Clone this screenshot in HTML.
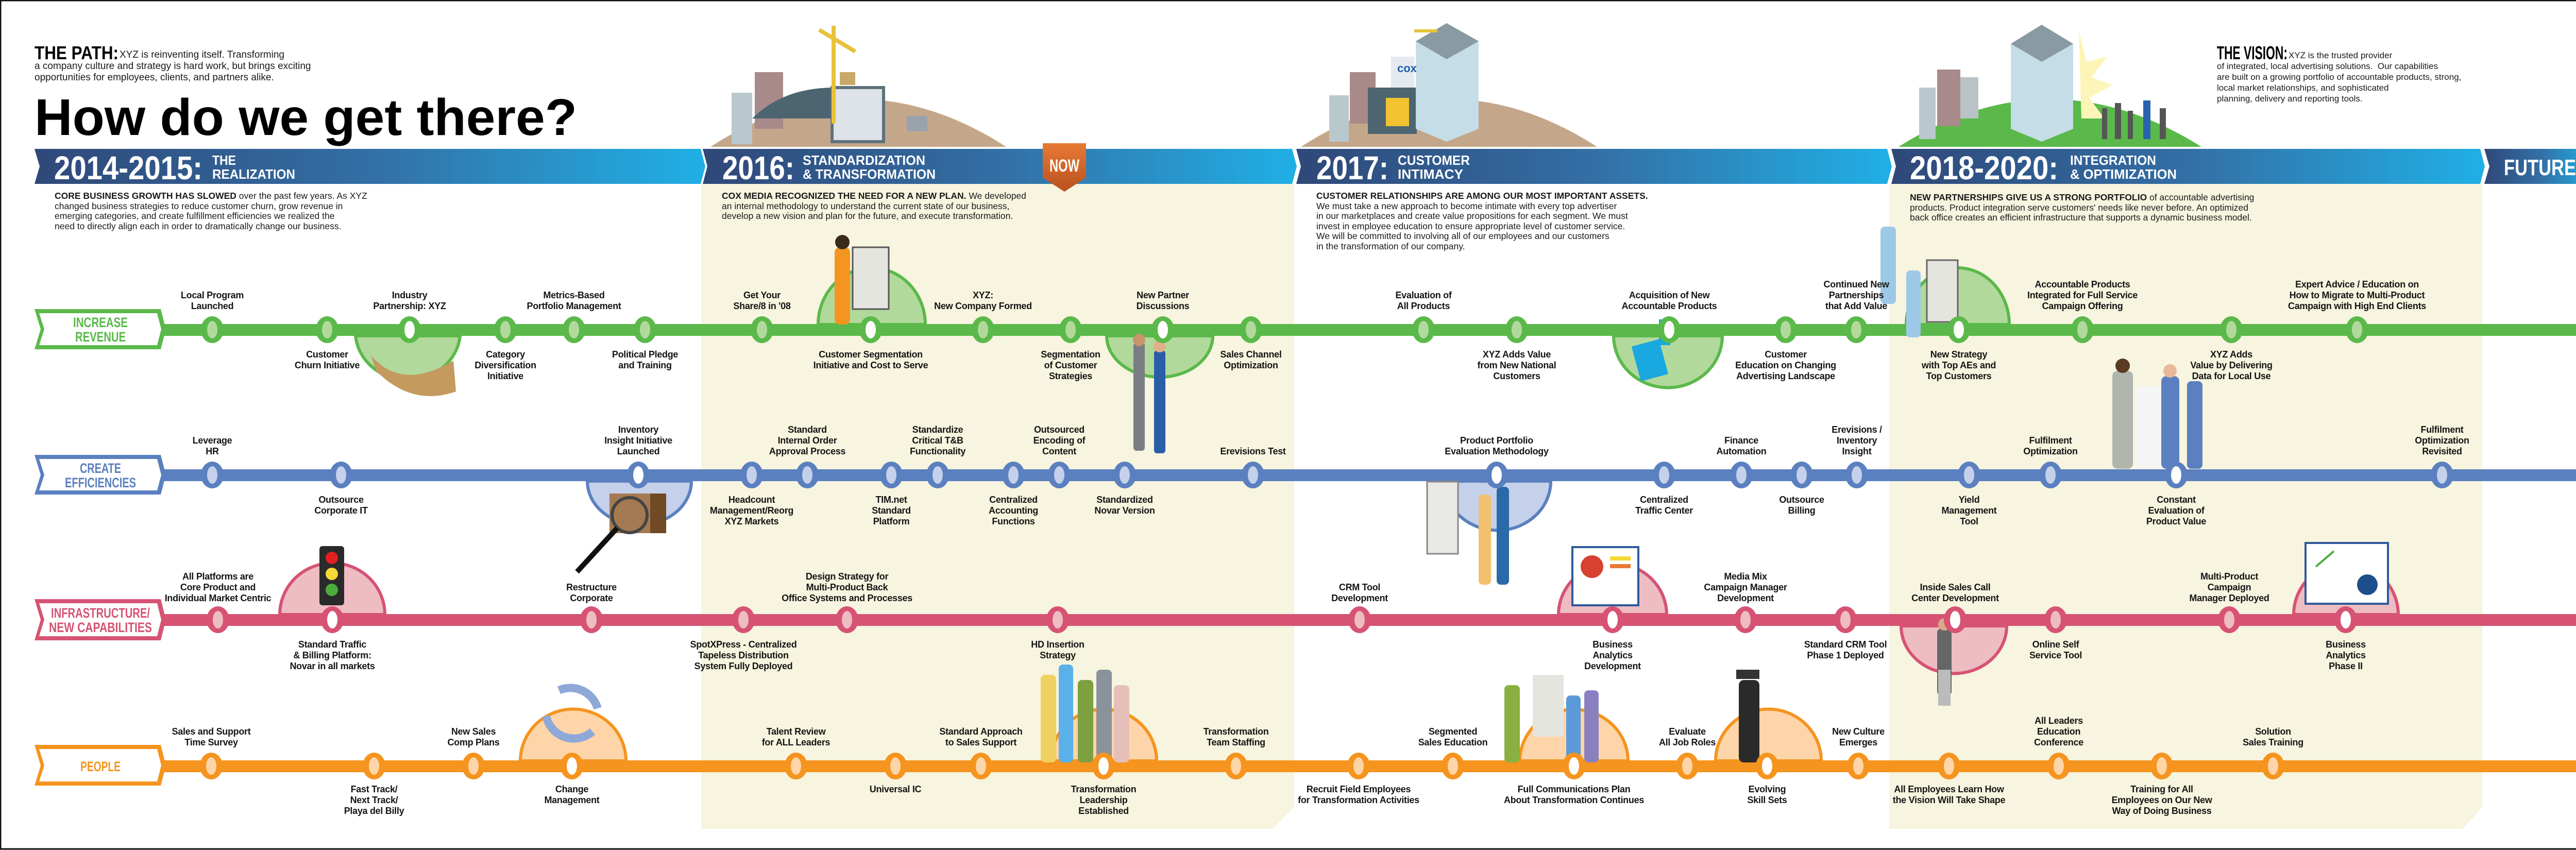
<!DOCTYPE html>
<html><head><meta charset="utf-8">
<style>
*{margin:0;padding:0;box-sizing:border-box}
body{width:5100px;height:1650px;position:relative;background:#fff;font-family:"Liberation Sans",Arial,sans-serif;overflow:hidden;color:#111}
svg{position:absolute;left:0;top:0}
.l{position:absolute;font-weight:bold;font-size:18px;line-height:21px;text-align:center;white-space:nowrap;transform:translateX(-50%);color:#151515;letter-spacing:-0.3px}
.a{transform:translate(-50%,-100%)}
.t{position:absolute;font-size:17.5px;line-height:19.5px;white-space:nowrap;color:#1a1a1a}
.t b{font-weight:bold}
</style></head><body>
<svg width="5100" height="1650" viewBox="0 0 5100 1650" xmlns="http://www.w3.org/2000/svg">
<defs>
<linearGradient id="bg" x1="0" x2="1" y1="0" y2="0"><stop offset="0" stop-color="#2f4878"/><stop offset="0.5" stop-color="#336fa5"/><stop offset="1" stop-color="#20b0e6"/></linearGradient>
<linearGradient id="ng" x1="0" x2="0" y1="0" y2="1"><stop offset="0" stop-color="#e87a35"/><stop offset="1" stop-color="#b9511f"/></linearGradient>
<g id="nG"><ellipse rx="22" ry="26" fill="#5ab94a"/><ellipse rx="10" ry="17" fill="#b2d99c"/></g>
<g id="wG"><ellipse rx="22" ry="26" fill="#5ab94a"/><ellipse rx="10" ry="17" fill="#fff"/></g>
<g id="nB"><ellipse rx="22" ry="26" fill="#5b80c0"/><ellipse rx="10" ry="17" fill="#c5d0ea"/></g>
<g id="wB"><ellipse rx="22" ry="26" fill="#5b80c0"/><ellipse rx="10" ry="17" fill="#fff"/></g>
<g id="nP"><ellipse rx="22" ry="26" fill="#d65373"/><ellipse rx="10" ry="17" fill="#eebcc3"/></g>
<g id="wP"><ellipse rx="22" ry="26" fill="#d65373"/><ellipse rx="10" ry="17" fill="#fff"/></g>
<g id="nO"><ellipse rx="22" ry="26" fill="#f5941e"/><ellipse rx="10" ry="17" fill="#fdd5a8"/></g>
<g id="wO"><ellipse rx="22" ry="26" fill="#f5941e"/><ellipse rx="10" ry="17" fill="#fff"/></g>
</defs>
<rect x="1" y="1" width="5098" height="1647" fill="none" stroke="#111" stroke-width="3"/>
<!-- beige areas -->
<path d="M1361,357 H2512 V1567 L2470,1609 H1361 Z" fill="#f7f4df"/>
<path d="M3667,357 H4818 V1567 L4780,1609 H3667 Z" fill="#f7f4df"/>

<!-- top hills -->
<path d="M1379,285 Q1666,100 1953,285 Z" fill="#c4a78a"/>
<rect x="1420" y="180" width="40" height="100" fill="#b9c8cc"/>
<rect x="1465" y="140" width="55" height="110" fill="#a98a8a"/>
<path d="M1460,230 Q1520,170 1620,170 L1620,230 Z" fill="#4d6570"/>
<rect x="1615" y="170" width="100" height="105" fill="#dde3e8"/>
<rect x="1615" y="170" width="100" height="105" fill="none" stroke="#5f727c" stroke-width="6"/>
<rect x="1614" y="50" width="8" height="190" fill="#e8c23a"/>
<line x1="1590" y1="58" x2="1660" y2="100" stroke="#e8c23a" stroke-width="8"/>
<rect x="1630" y="140" width="30" height="25" fill="#c8a96a"/>
<rect x="1760" y="225" width="40" height="30" fill="#9aa3ab"/>

<path d="M2525,285 Q2812,100 3100,285 Z" fill="#c4a78a"/>
<rect x="2580" y="185" width="38" height="90" fill="#b9c8cc"/>
<rect x="2620" y="140" width="50" height="100" fill="#a98a8a"/>
<rect x="2655" y="170" width="95" height="90" fill="#4d6570"/>
<rect x="2690" y="190" width="45" height="55" fill="#f2c230"/>
<polygon points="2748,80 2808,45 2870,80 2870,250 2808,275 2748,250" fill="#c5dde6"/>
<polygon points="2748,80 2808,45 2870,80 2808,115" fill="#8a9aa2"/>
<rect x="2700" y="110" width="45" height="60" fill="#e4eaf0"/>
<text x="2712" y="140" font-size="22" font-weight="bold" fill="#1f5fa8">cox</text>
<line x1="2745" y1="60" x2="2790" y2="60" stroke="#e8c23a" stroke-width="6"/>

<path d="M3685,285 Q3979,100 4273,285 Z" fill="#5ab94a"/>
<polygon points="4035,60 4050,120 4090,110 4060,150 4100,165 4055,190 4085,230 4040,230" fill="#fdf5b8"/>
<rect x="3725" y="170" width="32" height="100" fill="#b9c8cc"/>
<rect x="3760" y="135" width="45" height="110" fill="#a98a8a"/>
<rect x="3805" y="150" width="35" height="80" fill="#b9c2c6"/>
<polygon points="3903,85 3963,48 4024,85 4024,250 3963,275 3903,250" fill="#c5dde6"/>
<polygon points="3903,85 3963,48 4024,85 3963,120" fill="#8a9aa2"/>
<g fill="#555"><rect x="4080" y="210" width="10" height="60"/><rect x="4105" y="200" width="12" height="70"/><rect x="4130" y="215" width="10" height="55"/><rect x="4160" y="195" width="14" height="75" fill="#2a62b0"/><rect x="4192" y="210" width="12" height="60"/></g>

<!-- banner -->
<polygon points="67,289 1360,289 1369,323 1360,357 67,357 77,323" fill="url(#bg)"/>
<polygon points="1364,289 2508,289 2517,323 2508,357 1364,357 1373,323" fill="url(#bg)"/>
<polygon points="2516,289 3663,289 3672,323 3663,357 2516,357 2525,323" fill="url(#bg)"/>
<polygon points="3671,289 4814,289 4823,323 4814,357 3671,357 3680,323" fill="url(#bg)"/>
<polygon points="4822,289 5028,289 5038,323 5028,357 4822,357 4832,323" fill="url(#bg)"/>
<polygon points="2024,278 2108,278 2108,345 2066,372 2024,345" fill="url(#ng)"/>
<text x="2066" y="333" font-size="34" font-weight="bold" fill="#fff" text-anchor="middle" textLength="58" lengthAdjust="spacingAndGlyphs">NOW</text>
<g fill="#fff" font-weight="bold">
<text x="105" y="348" font-size="64" textLength="288" lengthAdjust="spacingAndGlyphs">2014-2015:</text>
<text x="412" y="320" font-size="26" textLength="46" lengthAdjust="spacingAndGlyphs">THE</text>
<text x="412" y="347" font-size="26" textLength="161" lengthAdjust="spacingAndGlyphs">REALIZATION</text>
<text x="1402" y="348" font-size="64" textLength="140" lengthAdjust="spacingAndGlyphs">2016:</text>
<text x="1558" y="320" font-size="26" textLength="238" lengthAdjust="spacingAndGlyphs">STANDARDIZATION</text>
<text x="1558" y="347" font-size="26" textLength="258" lengthAdjust="spacingAndGlyphs">&amp; TRANSFORMATION</text>
<text x="2555" y="348" font-size="64" textLength="140" lengthAdjust="spacingAndGlyphs">2017:</text>
<text x="2713" y="320" font-size="26" textLength="140" lengthAdjust="spacingAndGlyphs">CUSTOMER</text>
<text x="2713" y="347" font-size="26" textLength="127" lengthAdjust="spacingAndGlyphs">INTIMACY</text>
<text x="3707" y="348" font-size="64" textLength="288" lengthAdjust="spacingAndGlyphs">2018-2020:</text>
<text x="4018" y="320" font-size="26" textLength="167" lengthAdjust="spacingAndGlyphs">INTEGRATION</text>
<text x="4018" y="347" font-size="26" textLength="207" lengthAdjust="spacingAndGlyphs">&amp; OPTIMIZATION</text>
<text x="4860" y="340" font-size="44" textLength="140" lengthAdjust="spacingAndGlyphs">FUTURE</text>
</g>

<!-- title -->
<text x="67" y="262" font-size="100" font-weight="bold" fill="#000" textLength="1053" lengthAdjust="spacingAndGlyphs">How do we get there?</text>
<text x="67" y="115" font-size="36" font-weight="bold" fill="#000" textLength="163" lengthAdjust="spacingAndGlyphs">THE PATH:</text>
<text x="4303" y="115" font-size="36" font-weight="bold" fill="#000" textLength="137" lengthAdjust="spacingAndGlyphs">THE VISION:</text>

<!-- hills on lines -->
<g stroke-width="6">
<path d="M690,652 A102,95 0 0 0 893,652 Z" fill="#b2d99c" stroke="#5ab94a"/>
<path d="M2148,652 A103,80 0 0 0 2354,652 Z" fill="#b2d99c" stroke="#5ab94a"/>
<path d="M3132,652 A105,100 0 0 0 3343,652 Z" fill="#b2d99c" stroke="#5ab94a"/>
<path d="M1588,630 A104,110 0 0 1 1796,630 Z" fill="#b2d99c" stroke="#5ab94a"/>
<path d="M3700,630 A100,110 0 0 1 3900,630 Z" fill="#b2d99c" stroke="#5ab94a"/>
<path d="M1140,934 A101,85 0 0 0 1342,934 Z" fill="#c5d0ea" stroke="#5b80c0"/>
<path d="M2803,934 A103,95 0 0 0 3010,934 Z" fill="#c5d0ea" stroke="#5b80c0"/>
<path d="M543,1193 A102,100 0 0 1 747,1193 Z" fill="#eebcc3" stroke="#d65373"/>
<path d="M3025,1193 A105,100 0 0 1 3235,1193 Z" fill="#eebcc3" stroke="#d65373"/>
<path d="M4452,1193 A101,100 0 0 1 4655,1193 Z" fill="#eebcc3" stroke="#d65373"/>
<path d="M3690,1215 A102,92 0 0 0 3895,1215 Z" fill="#eebcc3" stroke="#d65373"/>
<path d="M1010,1477 A102,100 0 0 1 1215,1477 Z" fill="#fdd5a8" stroke="#f5941e"/>
<path d="M2040,1477 A102,100 0 0 1 2245,1477 Z" fill="#fdd5a8" stroke="#f5941e"/>
<path d="M2950,1477 A105,100 0 0 1 3160,1477 Z" fill="#fdd5a8" stroke="#f5941e"/>
<path d="M3330,1477 A102,100 0 0 1 3535,1477 Z" fill="#fdd5a8" stroke="#f5941e"/>
</g>

<!-- lines -->
<rect x="315" y="629" width="4712" height="23" fill="#5ab94a"/><path d="M5027,629 L5035,640 L5027,652Z" fill="#5ab94a"/>
<rect x="315" y="911" width="4712" height="23" fill="#5b80c0"/><path d="M5027,911 L5035,922 L5027,934Z" fill="#5b80c0"/>
<rect x="315" y="1192" width="4712" height="23" fill="#d65373"/><path d="M5027,1192 L5035,1203 L5027,1215Z" fill="#d65373"/>
<rect x="315" y="1476" width="4712" height="23" fill="#f5941e"/><path d="M5027,1476 L5035,1487 L5027,1499Z" fill="#f5941e"/>

<!-- row labels -->
<g>
<polygon points="67,600 312,600 322,639 312,678 67,678 79,639" fill="#5ab94a"/>
<polygon points="76,608 305,608 313,639 305,670 76,670 86,639" fill="#fff"/>
<polygon points="67,883 312,883 322,922 312,960 67,960 79,922" fill="#5b80c0"/>
<polygon points="76,891 305,891 313,922 305,952 76,952 86,922" fill="#fff"/>
<polygon points="67,1163 312,1163 322,1203 312,1243 67,1243 79,1203" fill="#d65373"/>
<polygon points="76,1171 305,1171 313,1203 305,1235 76,1235 86,1203" fill="#fff"/>
<polygon points="67,1446 312,1446 322,1486 312,1525 67,1525 79,1486" fill="#f5941e"/>
<polygon points="76,1454 305,1454 313,1486 305,1517 76,1517 86,1486" fill="#fff"/>
</g>
<g font-weight="bold" font-size="27" text-anchor="middle">
<text x="195" y="635" fill="#5ab94a" textLength="106" lengthAdjust="spacingAndGlyphs">INCREASE</text>
<text x="195" y="663" fill="#5ab94a" textLength="98" lengthAdjust="spacingAndGlyphs">REVENUE</text>
<text x="195" y="918" fill="#5b80c0" textLength="80" lengthAdjust="spacingAndGlyphs">CREATE</text>
<text x="195" y="946" fill="#5b80c0" textLength="138" lengthAdjust="spacingAndGlyphs">EFFICIENCIES</text>
<text x="195" y="1199" fill="#d65373" textLength="192" lengthAdjust="spacingAndGlyphs">INFRASTRUCTURE/</text>
<text x="195" y="1227" fill="#d65373" textLength="200" lengthAdjust="spacingAndGlyphs">NEW CAPABILITIES</text>
<text x="195" y="1497" fill="#f5941e" textLength="78" lengthAdjust="spacingAndGlyphs">PEOPLE</text>
</g>

<!-- illustrations (simplified) -->
<path d="M720,690 Q780,760 880,700 L885,760 Q800,790 730,720 Z" fill="#c49a5f"/>
<rect x="620" y="1060" width="48" height="115" rx="6" fill="#2a2a2a"/>
<circle cx="644" cy="1083" r="12" fill="#e02020"/><circle cx="644" cy="1114" r="12" fill="#f5d835"/><circle cx="644" cy="1145" r="12" fill="#4cae3a"/>
<rect x="1183" y="958" width="110" height="77" fill="#a57a52"/><rect x="1262" y="958" width="31" height="77" fill="#6f4a25"/>
<circle cx="1222" cy="1000" r="34" fill="none" stroke="#444" stroke-width="6"/><line x1="1198" y1="1025" x2="1120" y2="1110" stroke="#111" stroke-width="10"/>
<g fill="none" stroke="#8ea8d8" stroke-width="16"><path d="M1085,1340 A55,55 0 0 1 1160,1375"/><path d="M1150,1420 A55,55 0 0 1 1060,1390"/></g>
<!-- figures -->
<g>
<rect x="1620" y="480" width="30" height="150" rx="10" fill="#f39520"/><circle cx="1635" cy="470" r="14" fill="#3a2a1a"/>
<rect x="1655" y="480" width="70" height="120" fill="#e5e5e0" stroke="#555" stroke-width="3"/>
<rect x="2200" y="665" width="22" height="210" rx="6" fill="#7a7e84"/><circle cx="2211" cy="660" r="12" fill="#c8946a"/>
<rect x="2240" y="680" width="22" height="200" rx="6" fill="#2b5ea8"/><circle cx="2251" cy="672" r="12" fill="#e0b08a"/>
<rect x="3175" y="665" width="55" height="70" fill="#1aa8e0" transform="rotate(-15 3200 700)"/>
<rect x="3220" y="620" width="22" height="50" fill="#1aa8e0"/>
<rect x="3700" y="525" width="28" height="130" rx="8" fill="#9ec8e8"/><rect x="3740" y="505" width="60" height="120" fill="#e5e5e0" stroke="#666" stroke-width="3"/>
<rect x="4100" y="720" width="40" height="190" rx="10" fill="#b0b6ae"/><circle cx="4120" cy="710" r="14" fill="#5a3a22"/>
<rect x="4145" y="750" width="50" height="160" fill="#f5f5f5"/>
<rect x="4195" y="730" width="35" height="180" rx="10" fill="#5b80c0"/><circle cx="4212" cy="720" r="13" fill="#e8b898"/>
<rect x="2770" y="935" width="60" height="140" fill="#e8e8e4" stroke="#888" stroke-width="3"/>
<rect x="2870" y="960" width="24" height="175" rx="8" fill="#f3c070"/><rect x="2905" y="945" width="24" height="190" rx="8" fill="#2a6aa8"/>
<rect x="3052" y="1062" width="128" height="113" fill="#fff" stroke="#2f5a9a" stroke-width="4"/>
<circle cx="3090" cy="1100" r="22" fill="#d84030"/><rect x="3125" y="1080" width="40" height="8" fill="#f5d835"/><rect x="3125" y="1095" width="40" height="8" fill="#e87a35"/>
<rect x="4475" y="1054" width="160" height="118" fill="#fff" stroke="#2f5a9a" stroke-width="4"/>
<circle cx="4595" cy="1135" r="20" fill="#1f4f8a"/><path d="M4495,1100 L4530,1070" stroke="#4cae3a" stroke-width="4"/>
<rect x="3760" y="1220" width="28" height="130" rx="8" fill="#666"/><circle cx="3774" cy="1212" r="12" fill="#d8a888"/><rect x="3762" y="1300" width="24" height="70" fill="#bbb"/>
<rect x="2020" y="1310" width="30" height="170" rx="8" fill="#f0d060"/><rect x="2055" y="1290" width="28" height="190" rx="8" fill="#5ab0e8"/>
<rect x="2092" y="1320" width="30" height="160" rx="8" fill="#7ea040"/><rect x="2128" y="1300" width="30" height="180" rx="8" fill="#8a929c"/><rect x="2162" y="1330" width="30" height="150" rx="8" fill="#e6c0b8"/>
<rect x="2920" y="1330" width="30" height="150" rx="8" fill="#8ab040"/><rect x="2975" y="1310" width="60" height="120" fill="#e5e5e0"/><rect x="3040" y="1350" width="28" height="130" rx="8" fill="#5b9ad8"/><rect x="3075" y="1340" width="28" height="140" rx="8" fill="#8a80c0"/>
<rect x="3375" y="1320" width="40" height="160" rx="10" fill="#2a2a2a"/><rect x="3370" y="1300" width="45" height="18" fill="#333"/>
<rect x="3650" y="440" width="30" height="150" rx="8" fill="#9ec8e8"/><rect x="4245" y="740" width="30" height="170" rx="8" fill="#5b80c0"/>
</g>

<!-- nodes -->
<g>
<use href="#nG" x="412" y="640"/><use href="#nG" x="635" y="640"/><use href="#wG" x="795" y="640"/><use href="#nG" x="981" y="640"/><use href="#nG" x="1114" y="640"/><use href="#nG" x="1252" y="640"/><use href="#nG" x="1479" y="640"/><use href="#wG" x="1690" y="640"/><use href="#nG" x="1908" y="640"/><use href="#nG" x="2078" y="640"/><use href="#wG" x="2257" y="640"/><use href="#nG" x="2428" y="640"/><use href="#nG" x="2763" y="640"/><use href="#nG" x="2944" y="640"/><use href="#wG" x="3240" y="640"/><use href="#nG" x="3466" y="640"/><use href="#nG" x="3603" y="640"/><use href="#wG" x="3802" y="640"/><use href="#nG" x="4042" y="640"/><use href="#nG" x="4331" y="640"/><use href="#nG" x="4575" y="640"/>
<use href="#nB" x="412" y="922"/><use href="#nB" x="662" y="922"/><use href="#wB" x="1239" y="922"/><use href="#nB" x="1459" y="922"/><use href="#nB" x="1567" y="922"/><use href="#nB" x="1730" y="922"/><use href="#nB" x="1820" y="922"/><use href="#nB" x="1967" y="922"/><use href="#nB" x="2056" y="922"/><use href="#nB" x="2183" y="922"/><use href="#nB" x="2432" y="922"/><use href="#wB" x="2905" y="922"/><use href="#nB" x="3230" y="922"/><use href="#nB" x="3380" y="922"/><use href="#nB" x="3497" y="922"/><use href="#nB" x="3604" y="922"/><use href="#nB" x="3822" y="922"/><use href="#nB" x="3980" y="922"/><use href="#wB" x="4224" y="922"/><use href="#nB" x="4740" y="922"/>
<use href="#nP" x="423" y="1203"/><use href="#wP" x="645" y="1203"/><use href="#nP" x="1148" y="1203"/><use href="#nP" x="1443" y="1203"/><use href="#nP" x="1644" y="1203"/><use href="#nP" x="2053" y="1203"/><use href="#nP" x="2639" y="1203"/><use href="#wP" x="3130" y="1203"/><use href="#nP" x="3388" y="1203"/><use href="#nP" x="3582" y="1203"/><use href="#wP" x="3795" y="1203"/><use href="#nP" x="3990" y="1203"/><use href="#nP" x="4327" y="1203"/><use href="#wP" x="4553" y="1203"/>
<use href="#nO" x="410" y="1487"/><use href="#nO" x="726" y="1487"/><use href="#nO" x="919" y="1487"/><use href="#wO" x="1110" y="1487"/><use href="#nO" x="1545" y="1487"/><use href="#nO" x="1738" y="1487"/><use href="#nO" x="1904" y="1487"/><use href="#wO" x="2142" y="1487"/><use href="#nO" x="2399" y="1487"/><use href="#nO" x="2637" y="1487"/><use href="#nO" x="2820" y="1487"/><use href="#wO" x="3055" y="1487"/><use href="#nO" x="3275" y="1487"/><use href="#wO" x="3430" y="1487"/><use href="#nO" x="3607" y="1487"/><use href="#nO" x="3783" y="1487"/><use href="#nO" x="3996" y="1487"/><use href="#nO" x="4196" y="1487"/><use href="#nO" x="4412" y="1487"/>
</g>
</svg>

<!-- paragraphs -->
<div class="t" style="left:232px;top:96px;font-size:19px;line-height:22px">XYZ is reinventing itself. Transforming</div>
<div class="t" style="left:67px;top:118px;font-size:19px;line-height:22px">a company culture and strategy is hard work, but brings exciting<br>opportunities for employees, clients, and partners alike.</div>
<div class="t" style="left:4442px;top:97px;font-size:17px;line-height:21px">XYZ is the trusted provider</div>
<div class="t" style="left:4303px;top:118px;font-size:17px;line-height:21px">of integrated, local advertising solutions.&nbsp; Our capabilities<br>are built on a growing portfolio of accountable products, strong,<br>local market relationships, and sophisticated<br>planning, delivery and reporting tools.</div>
<div class="t" style="left:106px;top:371px"><b>CORE BUSINESS GROWTH HAS SLOWED</b> over the past few years. As XYZ<br>changed business strategies to reduce customer churn, grow revenue in<br>emerging categories, and create fulfillment efficiencies we realized the<br>need to directly align each in order to dramatically change our business.</div>
<div class="t" style="left:1401px;top:371px"><b>COX MEDIA RECOGNIZED THE NEED FOR A NEW PLAN.</b> We developed<br>an internal methodology to understand the current state of our business,<br>develop a new vision and plan for the future, and execute transformation.</div>
<div class="t" style="left:2555px;top:371px"><b>CUSTOMER RELATIONSHIPS ARE AMONG OUR MOST IMPORTANT ASSETS.</b><br>We must take a new approach to become intimate with every top advertiser<br>in our marketplaces and create value propositions for each segment. We must<br>invest in employee education to ensure appropriate level of customer service.<br>We will be committed to involving all of our employees and our customers<br>in the transformation of our company.</div>
<div class="t" style="left:3707px;top:374px"><b>NEW PARTNERSHIPS GIVE US A STRONG PORTFOLIO</b> of accountable advertising<br>products. Product integration serve customers' needs like never before. An optimized<br>back office creates an efficient infrastructure that supports a dynamic business model.</div>

<!-- Revenue labels -->
<div class="l a" style="left:412px;top:605px">Local Program<br>Launched</div>
<div class="l" style="left:635px;top:678px">Customer<br>Churn Initiative</div>
<div class="l a" style="left:795px;top:605px">Industry<br>Partnership: XYZ</div>
<div class="l" style="left:981px;top:678px">Category<br>Diversification<br>Initiative</div>
<div class="l a" style="left:1114px;top:605px">Metrics-Based<br>Portfolio Management</div>
<div class="l" style="left:1252px;top:678px">Political Pledge<br>and Training</div>
<div class="l a" style="left:1479px;top:605px">Get Your<br>Share/8 in '08</div>
<div class="l" style="left:1690px;top:678px">Customer Segmentation<br>Initiative and Cost to Serve</div>
<div class="l a" style="left:1908px;top:605px">XYZ:<br>New Company Formed</div>
<div class="l" style="left:2078px;top:678px">Segmentation<br>of Customer<br>Strategies</div>
<div class="l a" style="left:2257px;top:605px">New Partner<br>Discussions</div>
<div class="l" style="left:2428px;top:678px">Sales Channel<br>Optimization</div>
<div class="l a" style="left:2763px;top:605px">Evaluation of<br>All Products</div>
<div class="l" style="left:2944px;top:678px">XYZ Adds Value<br>from New National<br>Customers</div>
<div class="l a" style="left:3240px;top:605px">Acquisition of New<br>Accountable Products</div>
<div class="l" style="left:3466px;top:678px">Customer<br>Education on Changing<br>Advertising Landscape</div>
<div class="l a" style="left:3603px;top:605px">Continued New<br>Partnerships<br>that Add Value</div>
<div class="l" style="left:3802px;top:678px">New Strategy<br>with Top AEs and<br>Top Customers</div>
<div class="l a" style="left:4042px;top:605px">Accountable Products<br>Integrated for Full Service<br>Campaign Offering</div>
<div class="l" style="left:4331px;top:678px">XYZ Adds<br>Value by Delivering<br>Data for Local Use</div>
<div class="l a" style="left:4575px;top:605px">Expert Advice / Education on<br>How to Migrate to Multi-Product<br>Campaign with High End Clients</div>

<!-- Efficiency labels -->
<div class="l a" style="left:412px;top:887px">Leverage<br>HR</div>
<div class="l" style="left:662px;top:960px">Outsource<br>Corporate IT</div>
<div class="l a" style="left:1239px;top:887px">Inventory<br>Insight Initiative<br>Launched</div>
<div class="l" style="left:1459px;top:960px">Headcount<br>Management/Reorg<br>XYZ Markets</div>
<div class="l a" style="left:1567px;top:887px">Standard<br>Internal Order<br>Approval Process</div>
<div class="l" style="left:1730px;top:960px">TIM.net<br>Standard<br>Platform</div>
<div class="l a" style="left:1820px;top:887px">Standardize<br>Critical T&amp;B<br>Functionality</div>
<div class="l" style="left:1967px;top:960px">Centralized<br>Accounting<br>Functions</div>
<div class="l a" style="left:2056px;top:887px">Outsourced<br>Encoding of<br>Content</div>
<div class="l" style="left:2183px;top:960px">Standardized<br>Novar Version</div>
<div class="l a" style="left:2432px;top:887px">Erevisions Test</div>
<div class="l a" style="left:2905px;top:887px">Product Portfolio<br>Evaluation Methodology</div>
<div class="l" style="left:3230px;top:960px">Centralized<br>Traffic Center</div>
<div class="l a" style="left:3380px;top:887px">Finance<br>Automation</div>
<div class="l" style="left:3497px;top:960px">Outsource<br>Billing</div>
<div class="l a" style="left:3604px;top:887px">Erevisions /<br>Inventory<br>Insight</div>
<div class="l" style="left:3822px;top:960px">Yield<br>Management<br>Tool</div>
<div class="l a" style="left:3980px;top:887px">Fulfilment<br>Optimization</div>
<div class="l" style="left:4224px;top:960px">Constant<br>Evaluation of<br>Product Value</div>
<div class="l a" style="left:4740px;top:887px">Fulfilment<br>Optimization<br>Revisited</div>

<!-- Infrastructure labels -->
<div class="l a" style="left:423px;top:1172px">All Platforms are<br>Core Product and<br>Individual Market Centric</div>
<div class="l" style="left:645px;top:1241px">Standard Traffic<br>&amp; Billing Platform:<br>Novar in all markets</div>
<div class="l a" style="left:1148px;top:1172px">Restructure<br>Corporate</div>
<div class="l" style="left:1443px;top:1241px">SpotXPress - Centralized<br>Tapeless Distribution<br>System Fully Deployed</div>
<div class="l a" style="left:1644px;top:1172px">Design Strategy for<br>Multi-Product Back<br>Office Systems and Processes</div>
<div class="l" style="left:2053px;top:1241px">HD Insertion<br>Strategy</div>
<div class="l a" style="left:2639px;top:1172px">CRM Tool<br>Development</div>
<div class="l" style="left:3130px;top:1241px">Business<br>Analytics<br>Development</div>
<div class="l a" style="left:3388px;top:1172px">Media Mix<br>Campaign Manager<br>Development</div>
<div class="l" style="left:3582px;top:1241px">Standard CRM Tool<br>Phase 1 Deployed</div>
<div class="l a" style="left:3795px;top:1172px">Inside Sales Call<br>Center Development</div>
<div class="l" style="left:3990px;top:1241px">Online Self<br>Service Tool</div>
<div class="l a" style="left:4327px;top:1172px">Multi-Product<br>Campaign<br>Manager Deployed</div>
<div class="l" style="left:4553px;top:1241px">Business<br>Analytics<br>Phase II</div>

<!-- People labels -->
<div class="l a" style="left:410px;top:1452px">Sales and Support<br>Time Survey</div>
<div class="l" style="left:726px;top:1522px">Fast Track/<br>Next Track/<br>Playa del Billy</div>
<div class="l a" style="left:919px;top:1452px">New Sales<br>Comp Plans</div>
<div class="l" style="left:1110px;top:1522px">Change<br>Management</div>
<div class="l a" style="left:1545px;top:1452px">Talent Review<br>for ALL Leaders</div>
<div class="l" style="left:1738px;top:1522px">Universal IC</div>
<div class="l a" style="left:1904px;top:1452px">Standard Approach<br>to Sales Support</div>
<div class="l" style="left:2142px;top:1522px">Transformation<br>Leadership<br>Established</div>
<div class="l a" style="left:2399px;top:1452px">Transformation<br>Team Staffing</div>
<div class="l" style="left:2637px;top:1522px">Recruit Field Employees<br>for Transformation Activities</div>
<div class="l a" style="left:2820px;top:1452px">Segmented<br>Sales Education</div>
<div class="l" style="left:3055px;top:1522px">Full Communications Plan<br>About Transformation Continues</div>
<div class="l a" style="left:3275px;top:1452px">Evaluate<br>All Job Roles</div>
<div class="l" style="left:3430px;top:1522px">Evolving<br>Skill Sets</div>
<div class="l a" style="left:3607px;top:1452px">New Culture<br>Emerges</div>
<div class="l" style="left:3783px;top:1522px">All Employees Learn How<br>the Vision Will Take Shape</div>
<div class="l a" style="left:3996px;top:1452px">All Leaders<br>Education<br>Conference</div>
<div class="l" style="left:4196px;top:1522px">Training for All<br>Employees on Our New<br>Way of Doing Business</div>
<div class="l a" style="left:4412px;top:1452px">Solution<br>Sales Training</div>
</body></html>
